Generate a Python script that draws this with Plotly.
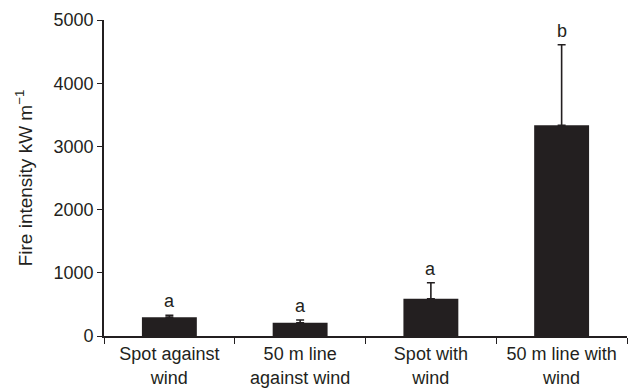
import plotly.graph_objects as go

# Mean fire intensity per ignition treatment, with upward standard errors
categories = ["Spot against<br>wind", "50 m line<br>against wind", "Spot with<br>wind", "50 m line with<br>wind"]
intensity = [295, 210, 589, 3333]
std_error = [32, 43, 253, 1275]
letters = ["a", "a", "a", "b"]

ink = "#231f20"
font_family = "Liberation Sans, Arial, sans-serif"

fig = go.Figure()
fig.add_trace(go.Bar(
    x=categories,
    y=intensity,
    width=0.42,
    marker=dict(color=ink, line=dict(width=0)),
    error_y=dict(type="data", array=std_error, symmetric=False,
                 arrayminus=[0] * len(intensity),
                 color=ink, thickness=1.6, width=4),
    showlegend=False,
))

# Significance letters above each error bar
for cat, val, err, letter in zip(categories, intensity, std_error, letters):
    fig.add_annotation(x=cat, y=val + err, text=letter, showarrow=False,
                       yanchor="middle", yshift=14,
                       font=dict(size=18, color=ink, family=font_family))

fig.update_layout(
    width=638, height=389,
    margin=dict(l=104, r=11, t=20, b=53),
    paper_bgcolor="white", plot_bgcolor="white",
    font=dict(family=font_family, size=18, color=ink),
    bargap=0.58,
)
fig.update_xaxes(
    automargin=False,
    showline=True, linecolor=ink, linewidth=1.6,
    ticks="outside", tickson="boundaries", ticklen=6, tickwidth=1.4, tickcolor=ink,
    ticklabelstandoff=1,
    tickfont=dict(size=18, color=ink), showgrid=False, zeroline=False,
)
fig.update_yaxes(
    automargin=False,
    range=[0, 5000], tickvals=[0, 1000, 2000, 3000, 4000, 5000],
    showline=True, linecolor=ink, linewidth=1.6,
    ticks="outside", ticklen=5, tickwidth=1.4, tickcolor=ink,
    tickfont=dict(size=18, color=ink), showgrid=False, zeroline=False,
    title=dict(text="Fire intensity kW m<sup>\u22121</sup>", font=dict(size=19, color=ink), standoff=16),
)

fig.write_html("out.html")
